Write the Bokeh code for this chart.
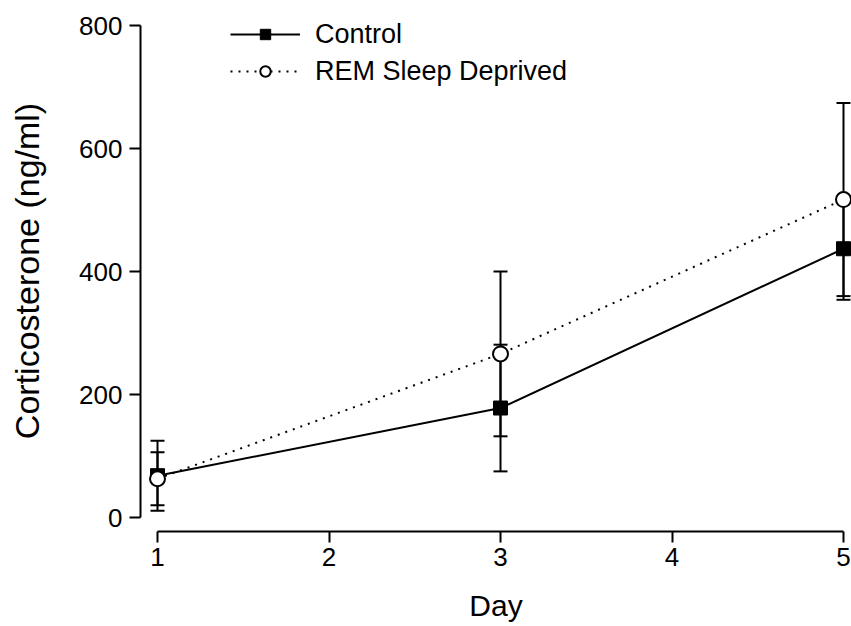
from bokeh.plotting import figure
from bokeh.models import Range1d, Whisker, ColumnDataSource, Legend, LegendItem, FixedTicker
from bokeh.embed import file_html
from bokeh.resources import INLINE

days = [1, 3, 5]
control_mean = [68, 178, 437]
control_err = [57, 103, 83]
rem_mean = [63, 266, 517]
rem_err = [43, 134, 157]
x_ticks = [1, 2, 3, 4, 5]
y_ticks = [0, 200, 400, 600, 800]

FONT = "Liberation Sans"

# frame geometry (px)
W, H = 851, 626
left, right_b, top, bottom = 140, 0, 10, 95
fw = W - left - right_b
fh = H - top - bottom
ppx = (fw - 17 - 8) / 4.0
ppy = (fh - 15 - 14) / 800.0

p = figure(width=W, height=H, output_backend="svg", toolbar_location=None,
           x_range=Range1d(1 - 17 / ppx, 5 + 8 / ppx),
           y_range=Range1d(-14 / ppy, 800 + 15 / ppy),
           min_border_left=left, min_border_right=right_b,
           min_border_top=top, min_border_bottom=bottom)
p.outline_line_color = None
p.grid.visible = False
p.background_fill_color = "white"

c_src = ColumnDataSource(dict(x=days, y=control_mean,
                              lo=[m - e for m, e in zip(control_mean, control_err)],
                              hi=[m + e for m, e in zip(control_mean, control_err)]))
r_src = ColumnDataSource(dict(x=days, y=rem_mean,
                              lo=[m - e for m, e in zip(rem_mean, rem_err)],
                              hi=[m + e for m, e in zip(rem_mean, rem_err)]))

c_line = p.line("x", "y", source=c_src, line_color="black", line_width=2)
r_line = p.line("x", "y", source=r_src, line_color="black", line_width=2, line_dash="2 6")
c_mark = p.scatter("x", "y", source=c_src, marker="square", size=14,
                   fill_color="black", line_color="black")
r_mark = p.scatter("x", "y", source=r_src, marker="circle", size=15,
                   fill_color="white", line_color="black", line_width=2)

for src in (c_src, r_src):
    w = Whisker(source=src, base="x", lower="lo", upper="hi",
                line_color="black", line_width=2)
    w.upper_head.size = 14
    w.lower_head.size = 14
    w.upper_head.line_width = 2
    w.lower_head.line_width = 2
    w.upper_head.line_color = "black"
    w.lower_head.line_color = "black"
    p.add_layout(w)

for ax in (p.xaxis[0], p.yaxis[0]):
    ax.axis_line_width = 2
    ax.major_tick_line_width = 2
    ax.minor_tick_line_color = None
    ax.major_tick_in = 0
    ax.major_tick_out = 11
    ax.major_label_text_font = FONT
    ax.major_label_text_font_size = "26px"
    ax.major_label_text_color = "black"
    ax.axis_label_text_font = FONT
    ax.axis_label_text_font_style = "normal"
    ax.axis_label_text_color = "black"
    ax.axis_line_color = "black"
    ax.major_tick_line_color = "black"

p.xaxis[0].ticker = FixedTicker(ticks=x_ticks)
p.yaxis[0].ticker = FixedTicker(ticks=y_ticks)
p.xaxis[0].bounds = (x_ticks[0], x_ticks[-1])
p.yaxis[0].bounds = (y_ticks[0], y_ticks[-1])
p.xaxis[0].axis_label = "Day"
p.yaxis[0].axis_label = "Corticosterone (ng/ml)"
p.xaxis[0].axis_label_text_font_size = "30px"
p.yaxis[0].axis_label_text_font_size = "34px"
p.xaxis[0].major_label_standoff = 5
p.yaxis[0].major_label_standoff = 7
p.xaxis[0].axis_label_standoff = 20
p.yaxis[0].axis_label_standoff = 30

legend = Legend(items=[LegendItem(label="Control", renderers=[c_line, c_mark]),
                       LegendItem(label="REM Sleep Deprived", renderers=[r_line, r_mark])],
                location=(90, 444), padding=0, margin=0, spacing=5,
                glyph_width=70, glyph_height=26, label_height=32,
                label_standoff=15, label_text_font=FONT,
                label_text_font_size="27px", label_text_color="black",
                border_line_color=None, background_fill_alpha=0)
p.add_layout(legend)

open("out.html", "w").write(file_html(p, INLINE))
